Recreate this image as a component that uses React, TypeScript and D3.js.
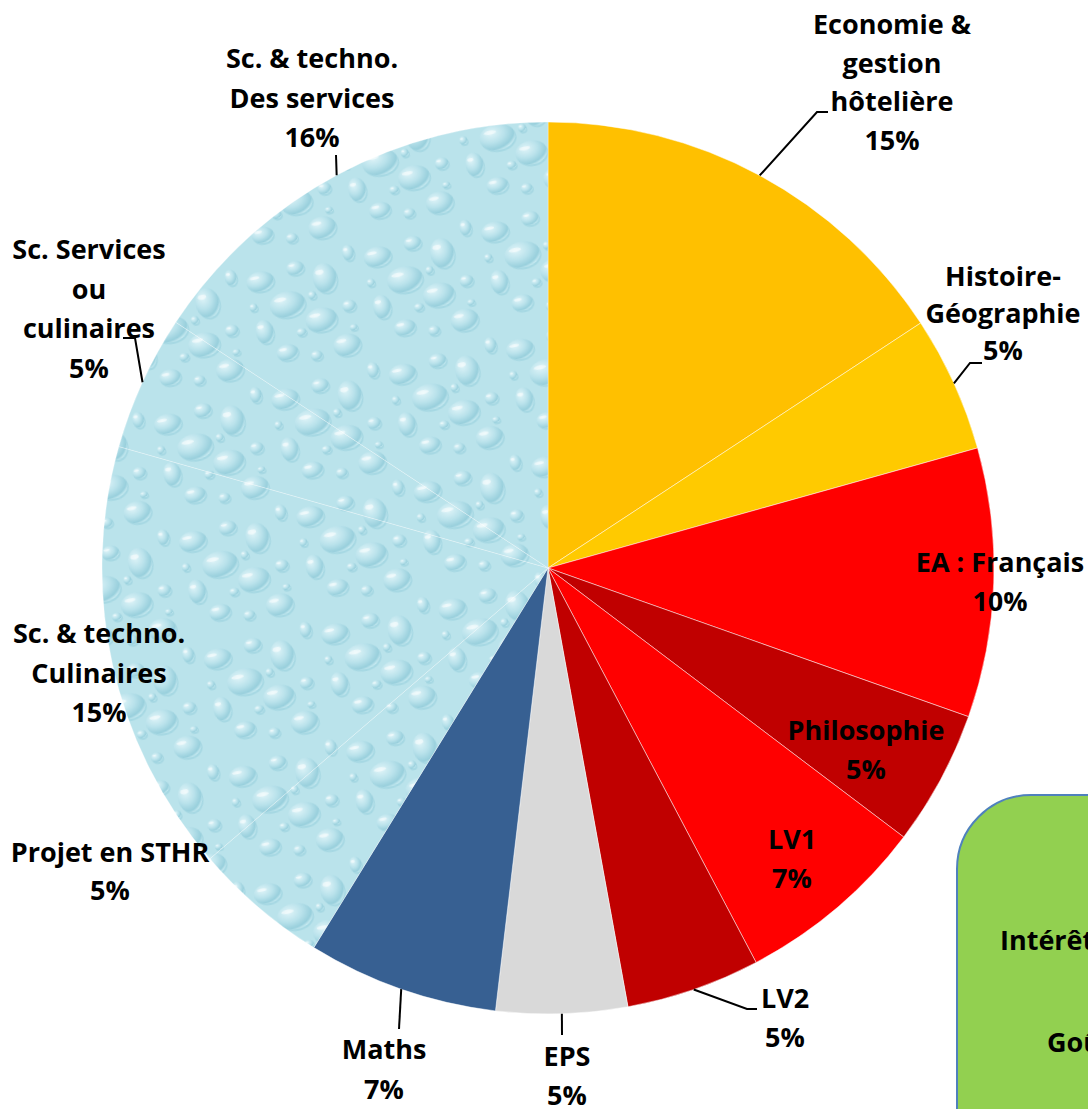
import React from "react";
import * as d3 from "d3";

const width = 1088;
const height = 1109;
const cx = 548;
const cy = 568;
const radius = 446;

// subjects, clockwise from 12 o'clock
const subjects = [
  "Economie &\ngestion\nhôtelière",
  "Histoire-\nGéographie",
  "EA : Français",
  "Philosophie",
  "LV1",
  "LV2",
  "EPS",
  "Maths",
  "Projet en STHR",
  "Sc. & techno.\nCulinaires",
  "Sc. Services\nou\nculinaires",
  "Sc. & techno.\nDes services"
];
const shares = [15.75, 4.92, 9.75, 4.9, 6.97, 4.86, 4.75, 6.92, 4.9, 15.7, 4.9, 15.72];
const pctLabels = ["15%", "5%", "10%", "5%", "7%", "5%", "5%", "7%", "5%", "15%", "5%", "16%"];

const fills = [
  "#FFC000", "#FFCA00", "#FF0000", "#C00000", "#FF0000", "#C00000",
  "#D9D9D9", "#376092", "url(#water)", "url(#water)", "url(#water)", "url(#water)"
];

// label anchor (centre x, first baseline) and leader elbows, page coords
const labelLayout = [
  { x: 892, y: 34, lh: 38.5, elbow: [[817, 112], [828, 112]] },
  { x: 1003, y: 286, lh: 37, elbow: [[970, 363], [982, 363]] },
  { x: 1000, y: 572, lh: 39, elbow: null },
  { x: 866, y: 740, lh: 39, elbow: null },
  { x: 792, y: 849, lh: 39, elbow: null },
  { x: 785, y: 1008, lh: 39, elbow: [[747, 1009], [757, 1009]] },
  { x: 567, y: 1066, lh: 39, elbow: [[562, 1035]] },
  { x: 384, y: 1059, lh: 40, elbow: [[399, 1029]] },
  { x: 110, y: 862, lh: 38, elbow: null },
  { x: 99, y: 643, lh: 39.5, elbow: null },
  { x: 89, y: 259, lh: 39.5, elbow: [[135, 338], [123, 338]] },
  { x: 312, y: 68, lh: 39.5, elbow: [[336, 155]] }
];

// droplets for the water texture tile (cx, cy, rx, ry)
const drops = [
  [18, 20, 14, 10], [55, 14, 9, 7], [82, 30, 12, 15], [40, 48, 18, 13],
  [12, 70, 9, 12], [70, 70, 16, 12], [100, 62, 7, 6], [30, 95, 11, 8],
  [90, 100, 14, 11], [58, 104, 6, 5], [110, 10, 6, 8], [6, 44, 4, 4],
  [48, 78, 5, 4], [100, 84, 4, 3], [66, 44, 4, 4]
];

const font = "'Open Sans', 'DejaVu Sans', sans-serif";

export default function App() {
  const pie = d3
    .pie<number>()
    .sort(null)
    .value(d => d)
    .startAngle(0)
    .endAngle(2 * Math.PI);
  const arcs = pie(shares);
  const arcGen = d3.arc<d3.PieArcDatum<number>>().innerRadius(0).outerRadius(radius);

  const edgePoint = (a: d3.PieArcDatum<number>) => {
    const m = (a.startAngle + a.endAngle) / 2;
    return [cx + radius * Math.sin(m), cy - radius * Math.cos(m)];
  };

  return (
    <svg
      width={width}
      height={height}
      style={{ position: "absolute", left: 0, top: 0, display: "block" }}
    >
      <defs>
        <radialGradient id="drop" cx="0.35" cy="0.3" r="0.75">
          <stop offset="0" stopColor="#dff4f8" />
          <stop offset="0.5" stopColor="#b9e2eb" />
          <stop offset="0.85" stopColor="#98cfdc" />
          <stop offset="1" stopColor="#cdeef4" />
        </radialGradient>
        <pattern
          id="water"
          width={120}
          height={120}
          patternUnits="userSpaceOnUse"
          patternTransform="rotate(-12)"
        >
          <rect width={120} height={120} fill="#BAE3EB" />
          {drops.map((d, i) => (
            <g key={i}>
              <ellipse cx={d[0] + 1} cy={d[1] + 2} rx={d[2]} ry={d[3]} fill="#a6d8e3" />
              <ellipse cx={d[0]} cy={d[1]} rx={d[2]} ry={d[3]} fill="url(#drop)" />
              <ellipse
                cx={d[0] - d[2] * 0.35}
                cy={d[1] - d[3] * 0.45}
                rx={d[2] * 0.35}
                ry={d[3] * 0.16}
                fill="#ffffff"
                opacity={0.55}
              />
            </g>
          ))}
        </pattern>
      </defs>

      <g transform={`translate(${cx},${cy})`}>
        {arcs.map((a, i) => (
          <path
            key={i}
            d={arcGen(a) || ""}
            fill={fills[i]}
            stroke="#ffffff"
            strokeOpacity={i >= 8 ? 0.35 : 0.6}
            strokeWidth={0.8}
          />
        ))}
      </g>

      {arcs.map((a, i) => {
        const lay = labelLayout[i];
        if (!lay.elbow) return null;
        const pts = [edgePoint(a), ...lay.elbow];
        return (
          <polyline
            key={"l" + i}
            points={pts.map(p => p.join(",")).join(" ")}
            fill="none"
            stroke="#000"
            strokeWidth={2}
          />
        );
      })}

      {subjects.map((s, i) => {
        const lay = labelLayout[i];
        const lines = [...s.split("\n"), pctLabels[i]];
        return (
          <text
            key={"t" + i}
            x={lay.x}
            y={lay.y}
            textAnchor="middle"
            fontFamily={font}
            fontWeight="bold"
            fontSize={27}
            fill="#000"
          >
            {lines.map((ln, j) => (
              <tspan key={j} x={lay.x} dy={j === 0 ? 0 : lay.lh}>
                {ln}
              </tspan>
            ))}
          </text>
        );
      })}

      <rect
        x={957}
        y={795}
        width={260}
        height={420}
        rx={74}
        ry={74}
        fill="#92D050"
        stroke="#4F81BD"
        strokeWidth={2}
      />
      <text x={1000} y={950} fontFamily={font} fontWeight="bold" fontSize={27} fill="#000">
        Intérêt
      </text>
      <text x={1047} y={1052} fontFamily={font} fontWeight="bold" fontSize={27} fill="#000">
        Goût
      </text>
    </svg>
  );
}
